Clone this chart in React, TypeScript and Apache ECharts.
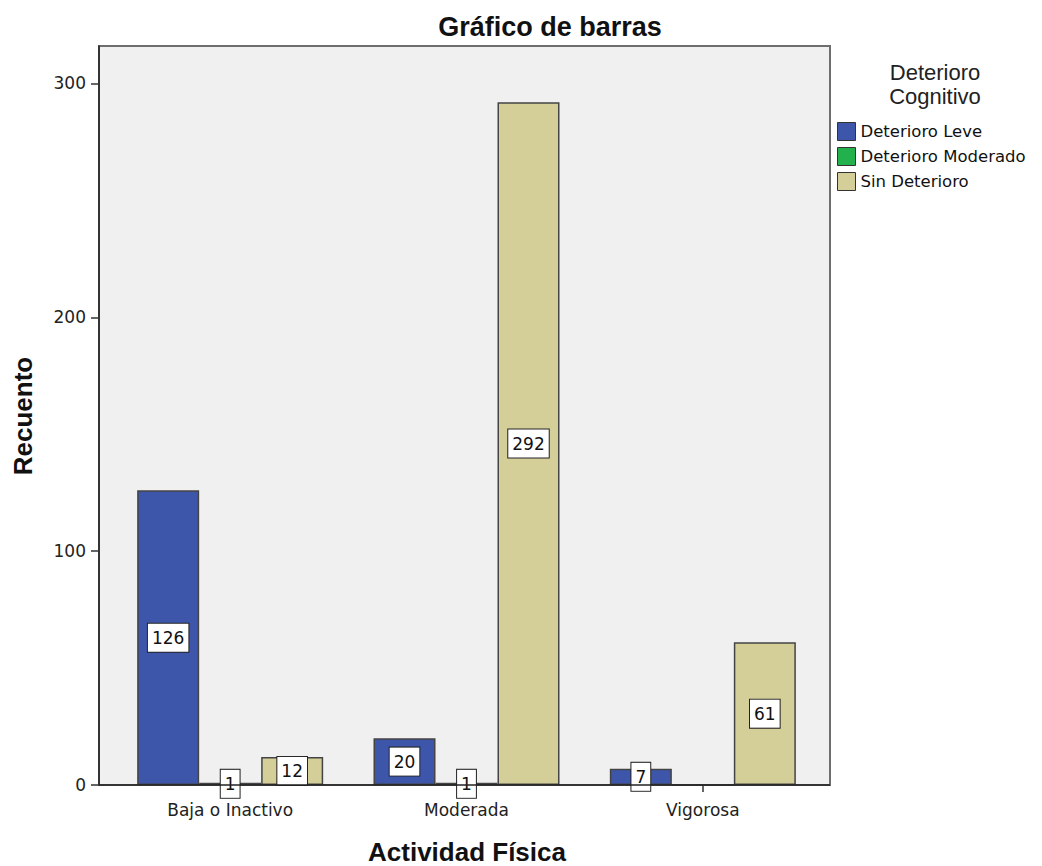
import React, { useEffect, useRef } from "react";
import * as echarts from "echarts";

// Counts of cognitive impairment by level of physical activity
const categories = ["Baja o Inactivo", "Moderada", "Vigorosa"];
const seriesNames = ["Deterioro Leve", "Deterioro Moderado", "Sin Deterioro"];
const deterioroLeve = [126, 20, 7];
const deterioroModerado = [1, 1, 0];
const sinDeterioro = [12, 292, 61];
const seriesColors = ["#3d56aa", "#22b14c", "#d4cf98"];
const yMax = 316;
const yInterval = 100;

const SMALL_FONT = "DejaVu Sans, Verdana, sans-serif";
const BIG_FONT = "Liberation Sans, Arial, sans-serif";

// Plot frame (drawn behind the grid, which is inset so bands match the frame padding)
const FRAME = { x: 99, y: 46, w: 731, h: 739 };

export default function App() {
  const ref = useRef<HTMLDivElement>(null);

  useEffect(() => {
    if (!ref.current) return;
    const chart = echarts.init(ref.current, null, { renderer: "svg" });

    const valueSets = [deterioroLeve, deterioroModerado, sinDeterioro];

    const series = seriesNames.map((name, i) => ({
      name,
      type: "bar",
      barWidth: 62,
      barGap: "0%",
      itemStyle: {
        color: seriesColors[i],
        borderColor: "#444",
        borderWidth: 1.5,
      },
      label: {
        show: true,
        position: "inside",
        color: "#111",
        fontFamily: SMALL_FONT,
        fontSize: 17,
        backgroundColor: "#ffffff",
        borderColor: "#222",
        borderWidth: 1,
        padding: [6, 4, 5, 4],
      },
      data: valueSets[i].map((v) =>
        v === 0 ? { value: v, label: { show: false } } : v
      ),
    }));

    chart.setOption({
      animation: false,
      backgroundColor: "#ffffff",
      grid: { left: 112, top: FRAME.y, width: 709, height: FRAME.h },
      legend: {
        orient: "vertical",
        left: 837,
        top: 122,
        padding: 0,
        icon: "rect",
        itemWidth: 18,
        itemHeight: 18,
        itemGap: 6,
        itemStyle: { borderColor: "#333", borderWidth: 1 },
        textStyle: { fontFamily: SMALL_FONT, fontSize: 16.5, color: "#111" },
        data: seriesNames,
      },
      xAxis: {
        type: "category",
        data: categories,
        axisLine: { show: false },
        axisTick: {
          show: true,
          alignWithLabel: true,
          length: 7,
          lineStyle: { color: "#333", width: 1.5 },
        },
        axisLabel: {
          fontFamily: SMALL_FONT,
          fontSize: 17,
          color: "#222",
          margin: 16,
        },
      },
      yAxis: {
        type: "value",
        min: 0,
        max: yMax,
        interval: yInterval,
        offset: 13,
        splitLine: { show: false },
        axisLine: { show: true, lineStyle: { color: "#222", width: 1.5 } },
        axisTick: { show: true, length: 8, lineStyle: { color: "#333", width: 1.5 } },
        axisLabel: {
          fontFamily: SMALL_FONT,
          fontSize: 17,
          color: "#222",
          margin: 13,
          showMaxLabel: false,
        },
      },
      graphic: [
        {
          type: "rect",
          z: -1,
          silent: true,
          shape: { x: FRAME.x, y: FRAME.y, width: FRAME.w, height: FRAME.h },
          style: { fill: "#f0f0f0", stroke: "#6e6e6e", lineWidth: 2 },
        },
        {
          type: "line",
          z: 100,
          silent: true,
          shape: {
            x1: FRAME.x,
            y1: FRAME.y + FRAME.h,
            x2: FRAME.x + FRAME.w,
            y2: FRAME.y + FRAME.h,
          },
          style: { stroke: "#222", lineWidth: 1.5 },
        },
        {
          type: "text",
          x: 550,
          y: 27,
          style: {
            text: "Gráfico de barras",
            font: `bold 27px ${BIG_FONT}`,
            fill: "#111",
            textAlign: "center",
            textVerticalAlign: "middle",
          },
        },
        {
          type: "text",
          x: 467,
          y: 852,
          style: {
            text: "Actividad Física",
            font: `bold 26px ${BIG_FONT}`,
            fill: "#111",
            textAlign: "center",
            textVerticalAlign: "middle",
          },
        },
        {
          type: "text",
          x: 23,
          y: 416,
          rotation: Math.PI / 2,
          style: {
            text: "Recuento",
            font: `bold 26px ${BIG_FONT}`,
            fill: "#111",
            textAlign: "center",
            textVerticalAlign: "middle",
          },
        },
        {
          type: "text",
          x: 935,
          y: 72,
          style: {
            text: "Deterioro",
            font: `22px ${BIG_FONT}`,
            fill: "#222",
            textAlign: "center",
            textVerticalAlign: "middle",
          },
        },
        {
          type: "text",
          x: 935,
          y: 96,
          style: {
            text: "Cognitivo",
            font: `22px ${BIG_FONT}`,
            fill: "#222",
            textAlign: "center",
            textVerticalAlign: "middle",
          },
        },
      ],
      series,
    });

    return () => chart.dispose();
  }, []);

  return (
    <div
      ref={ref}
      style={{ position: "fixed", left: 0, top: 0, width: 1042, height: 866 }}
    />
  );
}
